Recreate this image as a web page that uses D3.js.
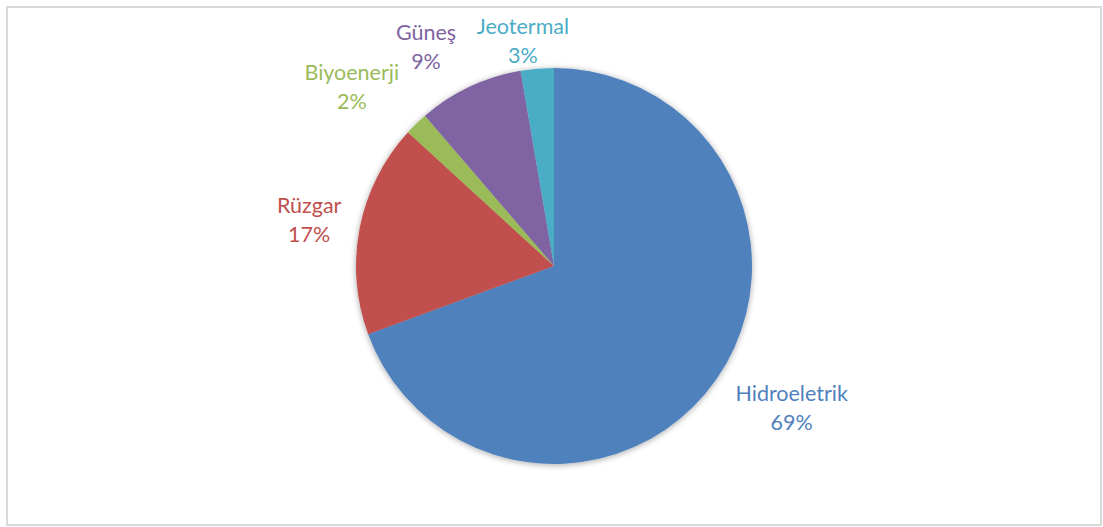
<!DOCTYPE html>
<html><head><meta charset="utf-8">
<script src="https://cdn.jsdelivr.net/npm/d3@7"></script>
<style>body{margin:0;background:#fff}svg{display:block}</style>
</head><body>
<script>
const categories = ["Hidroeletrik", "Rüzgar", "Biyoenerji", "Güneş", "Jeotermal"];
const values = [69.4, 17.4, 1.9, 8.6, 2.7];
const colors = ["#4F81BD", "#C0504D", "#9BBB59", "#8064A2", "#4BACC6"];
// label placement: distance from centre and angle nudge (degrees)
const labelDist = [277, 249, 270, 253, 227];
const labelNudge = [-4, -0.6, -4.4, -5.2, -3];

const W = 1103, H = 527, cx = 554, cy = 266, R = 198;
const svg = d3.select("body").append("svg").attr("width", W).attr("height", H);
const defs = svg.append("defs");
const f = defs.append("filter").attr("id","sh").attr("x","-20%").attr("y","-20%").attr("width","140%").attr("height","140%");
f.append("feGaussianBlur").attr("in","SourceAlpha").attr("stdDeviation",3).attr("result","b");
f.append("feOffset").attr("in","b").attr("dx",0).attr("dy",1).attr("result","o");
f.append("feComponentTransfer").attr("in","o").attr("result","o2").append("feFuncA").attr("type","linear").attr("slope",0.35);
const m = f.append("feMerge"); m.append("feMergeNode").attr("in","o2"); m.append("feMergeNode").attr("in","SourceGraphic");

svg.append("rect").attr("x",7).attr("y",7).attr("width",1094).attr("height",518)
  .attr("fill","#fff").attr("stroke","#d9d9d9").attr("stroke-width",2);

const data = categories.map((c,i)=>({name:c, value:values[i], color:colors[i], i}));
const pie = d3.pie().value(d=>d.value).sort(null);
const arc = d3.arc().innerRadius(0).outerRadius(R);
const arcs = pie(data);
const g = svg.append("g").attr("transform",`translate(${cx},${cy})`);
g.append("g").attr("filter","url(#sh)").selectAll("path").data(arcs).join("path")
  .attr("d", arc).attr("fill", d=>d.data.color);

const total = d3.sum(values);
const lab = g.selectAll("text.l").data(arcs).join("text").attr("class","l")
  .attr("font-family","Lato, 'Open Sans', sans-serif").attr("font-size",21.5).attr("font-weight",400)
  .attr("fill", d=>d.data.color).attr("text-anchor","middle")
  .attr("transform", d=>{
    const a = (d.startAngle+d.endAngle)/2 + labelNudge[d.data.i]*Math.PI/180;
    const r = labelDist[d.data.i];
    return `translate(${r*Math.sin(a)},${-r*Math.cos(a)})`;
  });
lab.append("tspan").attr("x",0).attr("dy",-7.5).text(d=>d.data.name);
lab.append("tspan").attr("x",0).attr("dy",29).text(d=>Math.round(d.data.value/total*100)+"%");
</script>
</body></html>
